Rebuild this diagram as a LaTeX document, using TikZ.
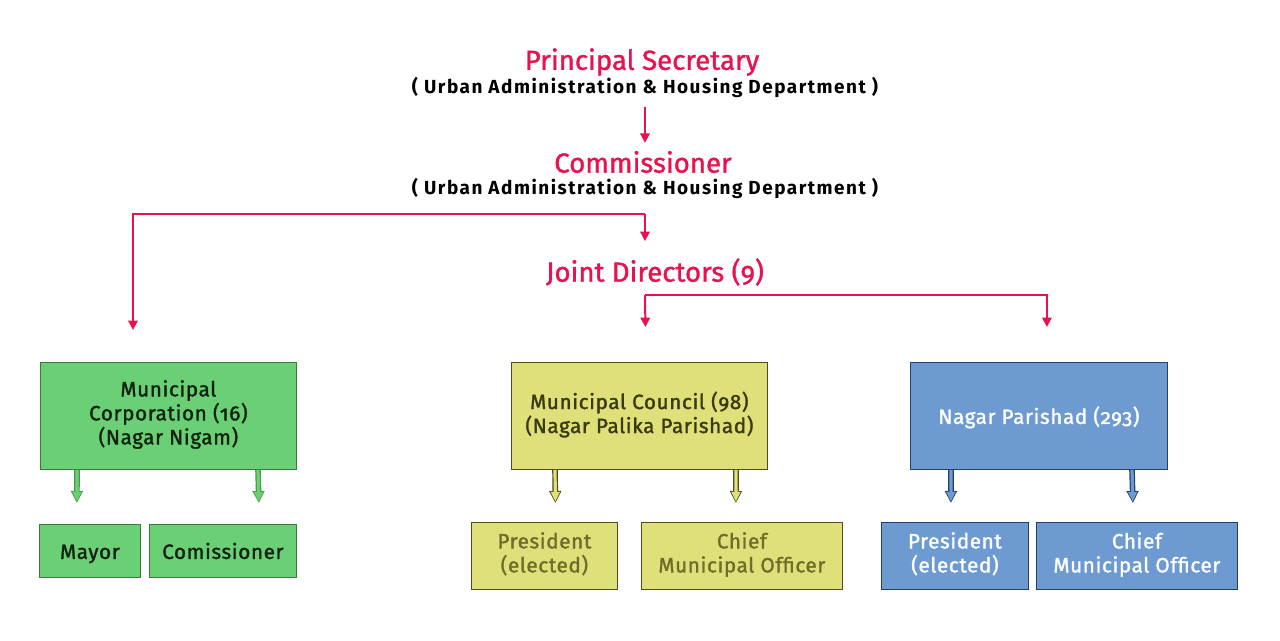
\documentclass[tikz,border=0pt]{standalone}
\usepackage{fontspec}
\setmainfont{Fira Sans}[Numbers=OldStyle]
\usetikzlibrary{arrows.meta,calc}
\definecolor{crim}{HTML}{E8124F}
\definecolor{gfill}{HTML}{6BCF76}
\definecolor{gline}{HTML}{3C7A3C}
\definecolor{garr}{HTML}{4A9A4A}
\definecolor{gtext}{HTML}{0F220F}
\definecolor{yfill}{HTML}{E0E07B}
\definecolor{yline}{HTML}{4D4D1A}
\definecolor{ytext}{HTML}{3A3A12}
\definecolor{ytext2}{HTML}{6E6E2A}
\definecolor{bfill}{HTML}{6D9AD1}
\definecolor{bline}{HTML}{23406B}
\newcommand{\fatarrow}[4]{% fill, line, from, to
  \draw[draw=#2, line width=4.2pt, -{Triangle[length=9pt,width=8.6pt]}] #3 -- #4;
  \draw[draw=#1, line width=2.4pt, shorten >=1.2pt, -{Triangle[length=7.1pt,width=6.4pt]}] #3 -- #4;
}
\newcommand{\topstrut}{\rule{0pt}{17.4pt}}
\newcommand{\botstrut}{\rule[-5.4pt]{0pt}{0pt}}
\begin{document}
\begin{tikzpicture}[x=0.75pt,y=-0.75pt,
  title/.style={text=crim, font=\fontsize{20.7}{24}\selectfont\addfontfeature{FakeBold=1.2}, inner sep=0pt},
  sub/.style={text=black, font=\fontsize{14.2}{16}\selectfont\bfseries\addfontfeature{LetterSpace=8}, inner sep=0pt},
  redarrow/.style={draw=crim, line width=1.5pt, -{Triangle[length=7pt,width=7pt]}},
  box/.style={draw, line width=0.6pt, inner sep=0pt, align=center, anchor=north west,
    font=\fontsize{15.5}{18}\selectfont\addfontfeature{FakeBold=1.5,LetterSpace=3},
    execute at begin node=\topstrut, execute at end node=\botstrut},
  gbox/.style={box, fill=gfill, draw=gline, text=gtext},
  ybox/.style={box, fill=yfill, draw=yline, text=ytext},
  ybox2/.style={box, fill=yfill, draw=yline, text=ytext2},
  bbox/.style={box, fill=bfill, draw=bline, text=white},
]
\useasboundingbox (0,0) rectangle (1280,640);
\fill[white] (0,0) rectangle (1280,640);

% titles
\node[title] (ps)  at (642,62)  {Principal Secretary};
\node[sub]   (ps2) at (645,87)  {( Urban Administration \& Housing Department )};
\node[title] (cm)  at (643,162) {Commissioner};
\node[sub]   (cm2) at (645,188) {( Urban Administration \& Housing Department )};
\node[title] (jd)  at (655,272) {Joint Directors (9)};

% boxes
\node[gbox, minimum width=256*0.75pt, minimum height=107*0.75pt] (mc) at (40,362)
  {Municipal\\Corporation (16)\\(Nagar Nigam)};
\node[ybox, minimum width=256*0.75pt, minimum height=107*0.75pt] (mu) at (511,362)
  {Municipal Council (98)\\ (Nagar Palika Parishad)};
\node[bbox, minimum width=257*0.75pt, minimum height=107*0.75pt] (np) at (910,362)
  {Nagar Parishad (293)};

\node[gbox, minimum width=101*0.75pt, minimum height=53*0.75pt] (mayor) at (39,524) {Mayor};
\node[gbox, minimum width=147*0.75pt, minimum height=53*0.75pt] (gcom) at (149,524) {Comissioner};
\node[ybox2, minimum width=146*0.75pt, minimum height=67*0.75pt] (ypr) at (471,522) {President\\(elected)};
\node[ybox2, minimum width=201*0.75pt, minimum height=67*0.75pt] (ycmo) at (641,522) {Chief\\Municipal Officer};
\node[bbox, minimum width=147*0.75pt, minimum height=67*0.75pt] (bpr) at (881,522) {President\\(elected)};
\node[bbox, minimum width=201*0.75pt, minimum height=67*0.75pt] (bcmo) at (1036,522) {Chief\\Municipal Officer};

% red connectors
\coordinate (j1) at (645,214);
\coordinate (j2) at (645,295);
\draw[redarrow] ($(ps2.south)+(0,9)$) -- ($(cm.north)+(2,-8)$);
\draw[redarrow] (j1) -| ($(mc.north west)+(93,-32)$);
\draw[redarrow] (j1) -- ($(jd.north)+(-10,-17)$);
\draw[redarrow] (j2) -- ($(mu.north)+(6,-35)$);
\draw[redarrow] (j2) -| ($(np.north)+(8,-35)$);

% fat arrows
\fatarrow{gfill}{garr}{($(mc.south west)+(37,0)$)}{($(mayor.north)+(-13,-21)$)}
\fatarrow{gfill}{garr}{($(mc.south west)+(218,0)$)}{($(gcom.north)+(36,-21)$)}
\fatarrow{yfill}{yline}{($(mu.south west)+(44,0)$)}{($(ypr.north)+(11,-19)$)}
\fatarrow{yfill}{yline}{($(mu.south west)+(225,0)$)}{($(ycmo.north)+(-6,-19)$)}
\fatarrow{bfill}{bline}{($(np.south west)+(41,0)$)}{($(bpr.north)+(-4,-19)$)}
\fatarrow{bfill}{bline}{($(np.south west)+(222,0)$)}{($(bcmo.north)+(-4,-19)$)}
\end{tikzpicture}
\end{document}
